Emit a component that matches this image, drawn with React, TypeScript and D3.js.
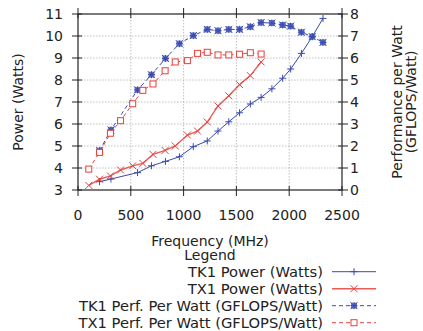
import React from "react";
import * as d3 from "d3";

// data
const tk1Freq = [204, 312, 564, 696, 828, 960, 1092, 1224, 1326, 1428, 1530, 1632, 1734, 1836, 1938, 2014, 2116, 2218, 2320];
const tk1Power = [3.38, 3.5, 3.79, 4.1, 4.3, 4.51, 4.97, 5.23, 5.68, 6.1, 6.51, 6.91, 7.21, 7.6, 8.08, 8.5, 9.21, 9.97, 10.8];
const tk1Ppw = [1.79, 2.73, 4.55, 5.24, 5.98, 6.65, 7.02, 7.3, 7.24, 7.3, 7.3, 7.42, 7.61, 7.59, 7.5, 7.45, 7.17, 6.97, 6.71];

const tx1Freq = [102, 204, 307, 403, 518, 614, 710, 825, 921, 1036, 1132, 1224, 1326, 1428, 1530, 1632, 1734];
const tx1Power = [3.21, 3.49, 3.64, 3.91, 4.1, 4.21, 4.62, 4.8, 5.0, 5.5, 5.68, 6.09, 6.82, 7.28, 7.79, 8.2, 8.82];
const tx1Ppw = [0.95, 1.71, 2.58, 3.15, 3.92, 4.53, 4.82, 5.42, 5.82, 5.88, 6.21, 6.26, 6.14, 6.14, 6.17, 6.24, 6.18];

const xTicks = [0, 500, 1000, 1500, 2000, 2500];
const yLeftTicks = [3, 4, 5, 6, 7, 8, 9, 10, 11];
const yRightTicks = [0, 1, 2, 3, 4, 5, 6, 7, 8];

const legendLabels = [
  "TK1 Power (Watts)",
  "TX1 Power (Watts)",
  "TK1 Perf. Per Watt (GFLOPS/Watt)",
  "TX1 Perf. Per Watt (GFLOPS/Watt)",
];

const BLUE = "#3a4bb0";
const RED = "#e8403c";
const FONT = "DejaVu Sans, sans-serif";

function Marker({ kind, x, y, color }: { kind: string; x: number; y: number; color: string }) {
  const s = 3.5;
  if (kind === "plus")
    return <path d={`M${x - s},${y}H${x + s}M${x},${y - s}V${y + s}`} stroke={color} strokeWidth={1} />;
  if (kind === "cross")
    return <path d={`M${x - s},${y - s}L${x + s},${y + s}M${x - s},${y + s}L${x + s},${y - s}`} stroke={color} strokeWidth={1} />;
  if (kind === "star")
    return (
      <g>
        <rect x={x - 3} y={y - 3} width={6} height={6} fill={color} opacity={0.75} />
        <path d={`M${x - s},${y}H${x + s}M${x},${y - s}V${y + s}M${x - s},${y - s}L${x + s},${y + s}M${x - s},${y + s}L${x + s},${y - s}`} stroke={color} strokeWidth={1} />
      </g>
    );
  return <rect x={x - 3} y={y - 3} width={6} height={6} fill="white" stroke={color} strokeWidth={1} />;
}

export default function App() {
  const W = 423, H = 331;
  const left = 78, right = 342, top = 14, bottom = 190;
  const x = d3.scaleLinear().domain([0, 2500]).range([left, right]);
  const yL = d3.scaleLinear().domain([3, 11]).range([bottom, top]);
  const yR = d3.scaleLinear().domain([0, 8]).range([bottom, top]);

  const series = [
    { fx: tk1Freq, v: tk1Power, y: yL, color: BLUE, dash: "", marker: "plus", sw: 1, op: 1 },
    { fx: tx1Freq, v: tx1Power, y: yL, color: RED, dash: "", marker: "cross", sw: 1.4, op: 0.85 },
    { fx: tk1Freq, v: tk1Ppw, y: yR, color: BLUE, dash: "4,3", marker: "star", sw: 1, op: 1 },
    { fx: tx1Freq, v: tx1Ppw, y: yR, color: RED, dash: "4,3", marker: "square", sw: 1, op: 1 },
  ];

  const line = (s: any) =>
    d3.line<number>().x((_, i) => x(s.fx[i])).y((d) => s.y(d))(s.v) || "";

  return (
    <svg width={W} height={H} style={{ position: "absolute", left: 0, top: 0 }} fontFamily={FONT}>
      <rect width={W} height={H} fill="white" />
      {/* grid */}
      <g stroke="#b0b0b0" strokeDasharray="1.5,1.5" strokeWidth={0.8}>
        {xTicks.slice(1, -1).map((t) => (
          <line key={"gx" + t} x1={x(t)} x2={x(t)} y1={top} y2={bottom} />
        ))}
        {yLeftTicks.slice(1, -1).map((t) => (
          <line key={"gy" + t} x1={left} x2={right} y1={yL(t)} y2={yL(t)} />
        ))}
      </g>
      {/* series */}
      {series.map((s, k) => (
        <g key={k}>
          <path d={line(s)} fill="none" stroke={s.color} strokeWidth={s.sw} strokeDasharray={s.dash} strokeOpacity={s.op} />
          {s.v.map((d, i) => (
            <Marker key={i} kind={s.marker} x={x(s.fx[i])} y={s.y(d)} color={s.color} />
          ))}
        </g>
      ))}
      {/* frame */}
      <rect x={left} y={top} width={right - left} height={bottom - top} fill="none" stroke="#222" strokeWidth={1.2} />
      {/* ticks */}
      <g stroke="#222" strokeWidth={1}>
        {xTicks.map((t) => (
          <g key={"tx" + t}>
            <line x1={x(t)} x2={x(t)} y1={bottom - 4} y2={bottom + 6} />
            <line x1={x(t)} x2={x(t)} y1={top - 6} y2={top + 4} />
          </g>
        ))}
        {yLeftTicks.map((t) => (
          <line key={"tl" + t} x1={left - 6} x2={left + 4} y1={yL(t)} y2={yL(t)} />
        ))}
        {yRightTicks.map((t) => (
          <line key={"tr" + t} x1={right - 4} x2={right + 6} y1={yR(t)} y2={yR(t)} />
        ))}
      </g>
      {/* tick labels */}
      <g fontSize={14} fill="#222">
        {xTicks.map((t) => (
          <text key={"lx" + t} x={x(t)} y={220} textAnchor="middle">{t}</text>
        ))}
        {yLeftTicks.map((t) => (
          <text key={"ll" + t} x={63} y={yL(t)} dy="0.35em" textAnchor="end">{t}</text>
        ))}
        {yRightTicks.map((t) => (
          <text key={"lr" + t} x={350} y={yR(t)} dy="0.35em" textAnchor="start">{t}</text>
        ))}
      </g>
      {/* axis titles */}
      <g fontSize={14} fill="#222" textAnchor="middle">
        <text transform={`translate(23,${(top + bottom) / 2}) rotate(-90)`}>Power (Watts)</text>
        <text transform={`translate(402,${(top + bottom) / 2}) rotate(-90)`}>Performance per Watt</text>
        <text transform={`translate(416,${(top + bottom) / 2}) rotate(-90)`}>(GFLOPS/Watt)</text>
        <text x={210} y={246}>Frequency (MHz)</text>
        <text x={210} y={260}>Legend</text>
      </g>
      {/* legend */}
      <g fontSize={14.7} fill="#222">
        {legendLabels.map((lab, i) => {
          const s = series[i];
          const ly = 271.7 + i * 17;
          return (
            <g key={lab}>
              <text x={323} y={ly} dy="0.35em" textAnchor="end">{lab}</text>
              <line x1={332} x2={376} y1={ly} y2={ly} stroke={s.color} strokeWidth={s.sw} strokeDasharray={s.dash} strokeOpacity={s.op} />
              <Marker kind={s.marker} x={354} y={ly} color={s.color} />
            </g>
          );
        })}
      </g>
    </svg>
  );
}
